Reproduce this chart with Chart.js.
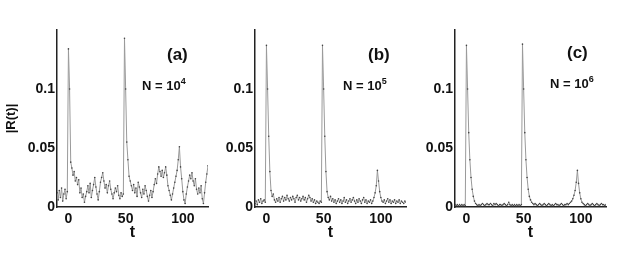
<!DOCTYPE html>
<html>
<head>
<meta charset="utf-8">
<script src="https://cdn.jsdelivr.net/npm/chart.js@4.4.0/dist/chart.umd.min.js"></script>
<style>
  body { margin: 0; background: #fff; }
  #wrap { position: relative; width: 623px; height: 259px; overflow: hidden; font-family: "Liberation Sans", Arial, sans-serif; color: #111; }
  canvas { position: absolute; top: 0; }
  .tag { position: absolute; font-weight: bold; font-size: 17px; line-height: 18px; }
  .n { position: absolute; font-weight: bold; font-size: 13px; line-height: 14px; white-space: nowrap; }
  .n sup { font-size: 9px; vertical-align: 6px; line-height: 0; }
</style>
</head>
<body>
<div id="wrap">
  <canvas id="cA" width="215" height="259" style="left:0px"></canvas>
  <canvas id="cB" width="213" height="259" style="left:200px"></canvas>
  <canvas id="cC" width="213" height="259" style="left:400px"></canvas>
  <div class="tag" style="left:167px;top:46px">(a)</div>
  <div class="n" style="left:142px;top:79px">N = 10<sup>4</sup></div>
  <div class="tag" style="left:368px;top:46px">(b)</div>
  <div class="n" style="left:343px;top:79px">N = 10<sup>5</sup></div>
  <div class="tag" style="left:567px;top:44px">(c)</div>
  <div class="n" style="left:550px;top:77px">N = 10<sup>6</sup></div>
</div>
<script>
// time axis, t = -10 .. 122
const times = [
  -10, -9, -8, -7, -6, -5, -4, -3, -2, -1,
  0, 1, 2, 3, 4, 5, 6, 7, 8, 9,
  10, 11, 12, 13, 14, 15, 16, 17, 18, 19,
  20, 21, 22, 23, 24, 25, 26, 27, 28, 29,
  30, 31, 32, 33, 34, 35, 36, 37, 38, 39,
  40, 41, 42, 43, 44, 45, 46, 47, 48, 49,
  50, 51, 52, 53, 54, 55, 56, 57, 58, 59,
  60, 61, 62, 63, 64, 65, 66, 67, 68, 69,
  70, 71, 72, 73, 74, 75, 76, 77, 78, 79,
  80, 81, 82, 83, 84, 85, 86, 87, 88, 89,
  90, 91, 92, 93, 94, 95, 96, 97, 98, 99,
  100, 101, 102, 103, 104, 105, 106, 107, 108, 109,
  110, 111, 112, 113, 114, 115, 116, 117, 118, 119,
  120, 121, 122
];

// (a) N = 10^4
const rA = [
  0.012, 0.006, 0.014, 0.008, 0.016, 0.005, 0.011, 0.015, 0.007, 0.013,
  0.134, 0.100, 0.038, 0.033, 0.027, 0.030, 0.022, 0.025, 0.019, 0.023,
  0.012, 0.016, 0.008, 0.011, 0.004, 0.009, 0.013, 0.018, 0.012, 0.020,
  0.008, 0.014, 0.019, 0.025, 0.017, 0.011, 0.006, 0.013, 0.021, 0.025,
  0.029, 0.022, 0.016, 0.019, 0.012, 0.018, 0.022, 0.015, 0.011, 0.007,
  0.012, 0.016, 0.013, 0.018, 0.010, 0.007, 0.012, 0.009, 0.011, 0.143,
  0.100, 0.055, 0.040, 0.026, 0.022, 0.018, 0.014, 0.019, 0.012, 0.016,
  0.009, 0.021, 0.017, 0.012, 0.008, 0.015, 0.011, 0.018, 0.014, 0.009,
  0.005, 0.010, 0.014, 0.008, 0.013, 0.019, 0.024, 0.020, 0.028, 0.034,
  0.030, 0.026, 0.031, 0.025, 0.029, 0.034, 0.027, 0.018, 0.014, 0.010,
  0.006, 0.011, 0.016, 0.021, 0.026, 0.031, 0.040, 0.051, 0.034, 0.024,
  0.013, 0.006, 0.003, 0.011, 0.017, 0.022, 0.027, 0.024, 0.029, 0.022,
  0.018, 0.024, 0.015, 0.011, 0.016, 0.012, 0.018, 0.007, 0.003, 0.012,
  0.021, 0.028, 0.035
];

// (b) N = 10^5
const rB = [
  0.003, 0.005, 0.002, 0.006, 0.004, 0.007, 0.003, 0.005, 0.006, 0.004,
  0.137, 0.100, 0.060, 0.030, 0.014, 0.009, 0.011, 0.006, 0.004, 0.007,
  0.005, 0.008, 0.004, 0.007, 0.009, 0.005, 0.008, 0.006, 0.010, 0.007,
  0.005, 0.008, 0.006, 0.009, 0.007, 0.004, 0.008, 0.010, 0.006, 0.008,
  0.005, 0.007, 0.009, 0.006, 0.008, 0.004, 0.007, 0.010, 0.008, 0.005,
  0.007, 0.004, 0.006, 0.003, 0.005, 0.004, 0.003, 0.005, 0.004, 0.137,
  0.100, 0.060, 0.030, 0.013, 0.008, 0.006, 0.009, 0.005, 0.007, 0.004,
  0.006, 0.003, 0.005, 0.007, 0.004, 0.006, 0.003, 0.005, 0.008, 0.004,
  0.006, 0.003, 0.005, 0.007, 0.004, 0.006, 0.008, 0.005, 0.003, 0.006,
  0.004, 0.007, 0.005, 0.003, 0.006, 0.008, 0.004, 0.006, 0.003, 0.005,
  0.004, 0.006, 0.003, 0.005, 0.008, 0.012, 0.018, 0.031, 0.022, 0.013,
  0.008, 0.005, 0.004, 0.006, 0.003, 0.005, 0.007, 0.004, 0.006, 0.003,
  0.005, 0.004, 0.006, 0.003, 0.005, 0.004, 0.006, 0.003, 0.005, 0.004,
  0.003, 0.005, 0.004
];

// (c) N = 10^6
const rC = [
  0.002, 0.001, 0.002, 0.001, 0.002, 0.001, 0.002, 0.001, 0.002, 0.001,
  0.137, 0.100, 0.063, 0.040, 0.025, 0.015, 0.009, 0.005, 0.003, 0.002,
  0.001, 0.002, 0.001, 0.002, 0.003, 0.002, 0.001, 0.002, 0.003, 0.002,
  0.002, 0.003, 0.002, 0.001, 0.003, 0.002, 0.003, 0.002, 0.001, 0.002,
  0.002, 0.001, 0.002, 0.003, 0.002, 0.001, 0.002, 0.004, 0.002, 0.001,
  0.002, 0.001, 0.002, 0.001, 0.002, 0.001, 0.002, 0.001, 0.002, 0.138,
  0.100, 0.063, 0.040, 0.025, 0.015, 0.009, 0.006, 0.004, 0.003, 0.002,
  0.003, 0.002, 0.001, 0.002, 0.003, 0.002, 0.001, 0.002, 0.003, 0.002,
  0.001, 0.002, 0.003, 0.002, 0.001, 0.002, 0.001, 0.002, 0.003, 0.002,
  0.002, 0.001, 0.002, 0.003, 0.002, 0.001, 0.002, 0.002, 0.003, 0.002,
  0.003, 0.004, 0.005, 0.007, 0.010, 0.014, 0.021, 0.031, 0.020, 0.012,
  0.007, 0.004, 0.003, 0.002, 0.001, 0.002, 0.003, 0.002, 0.001, 0.002,
  0.003, 0.002, 0.001, 0.002, 0.003, 0.002, 0.001, 0.002, 0.003, 0.002,
  0.002, 0.001, 0.002
];

const xTicks = [0, 50, 100];
const yTicks = [0, 0.05, 0.1];

const fam = '"Liberation Sans", Arial, sans-serif';

function makeChart(id, values, showYTitle, yWidth) {
  new Chart(document.getElementById(id), {
    type: 'line',
    data: {
      datasets: [{
        data: times.map((t, i) => ({ x: t, y: values[i] })),
        borderColor: '#9a9a9a',
        borderWidth: 1,
        pointRadius: 0.8,
        pointBackgroundColor: '#444',
        pointBorderWidth: 0,
        tension: 0
      }]
    },
    options: {
      responsive: false,
      animation: false,
      events: [],
      layout: { padding: { top: 30, right: 7, left: 0, bottom: 0 } },
      plugins: { legend: { display: false }, tooltip: { enabled: false } },
      scales: {
        x: {
          type: 'linear',
          min: -10,
          max: 122,
          grid: { display: false, drawTicks: false },
          border: { color: '#222', width: 1.5 },
          afterBuildTicks: s => { s.ticks = xTicks.map(v => ({ value: v })); },
          afterFit: s => { s.height = 52; },
          ticks: { padding: 4, color: '#111', maxRotation: 0, autoSkip: false,
                   font: { family: fam, size: 14, weight: 'bold' } },
          title: { display: true, text: 't', color: '#111',
                   font: { family: fam, size: 16, weight: 'bold' },
                   padding: { top: 0, bottom: 17 } }
        },
        y: {
          min: 0,
          max: 0.15,
          grid: { display: false, drawTicks: false },
          border: { color: '#222', width: 1.5 },
          afterBuildTicks: s => { s.ticks = yTicks.map(v => ({ value: v })); },
          afterFit: s => { s.width = yWidth; },
          ticks: { padding: 2, color: '#111', callback: v => String(v),
                   font: { family: fam, size: 14, weight: 'bold' } },
          title: { display: showYTitle, text: '|R(t)|', color: '#111',
                   font: { family: fam, size: 13, weight: 'bold' },
                   padding: { top: 4, bottom: 0 } }
        }
      }
    }
  });
}

makeChart('cA', rA, true, 57);
makeChart('cB', rB, false, 55);
makeChart('cC', rC, false, 55);
</script>
</body>
</html>
